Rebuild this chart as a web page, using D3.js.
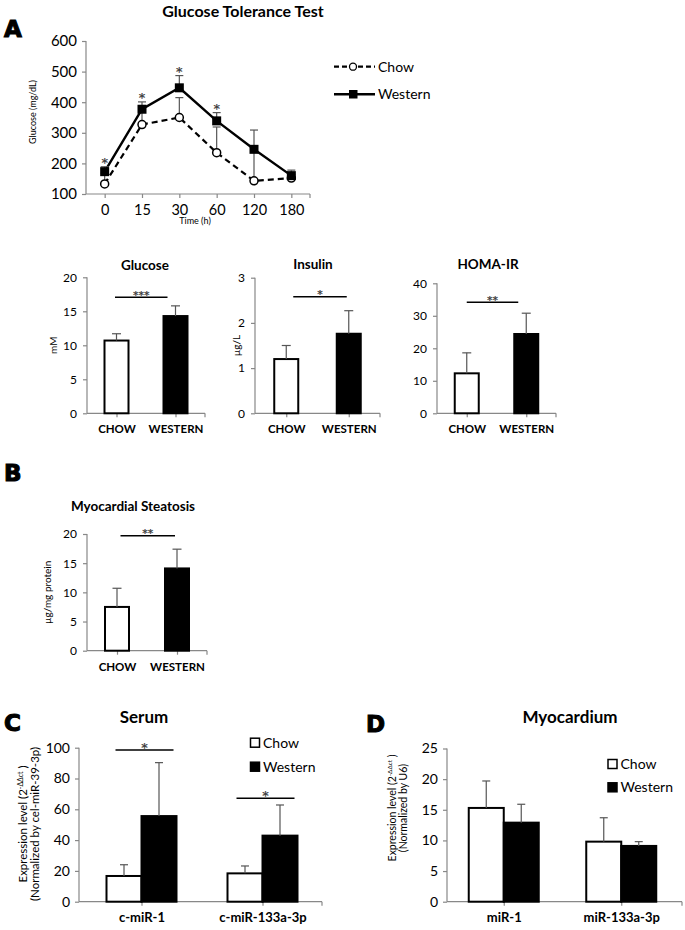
<!DOCTYPE html>
<html><head><meta charset="utf-8">
<script src="https://cdn.jsdelivr.net/npm/d3@7"></script>
<style>body{margin:0;background:#fff} svg{display:block} text{font-family:Lato,'Open Sans',sans-serif;fill:#000}</style>
</head><body><svg id="c" width="685" height="930"></svg>
<script>
// ---------- DATA ----------
const gttTimes = ["0","15","30","60","120","180"];
const gttChow = [133,327,350,235,143,152];
const gttChowErr = [35,45,65,84,95,12];
const gttWestern = [173,377,447,339,246,160];
const gttWesternErr = [16,24,40,27,63,18];
const gttSig = ["*","*","*","*","",""];
const gttTicks = [100,200,300,400,500,600];

const groups2 = ["CHOW","WESTERN"];
const glucoseVals = [10.7,14.3], glucoseErr = [1.0,1.5], glucoseTicks = [0,5,10,15,20];
const insulinVals = [1.2,1.76], insulinErr = [0.3,0.51], insulinTicks = [0,1,2,3];
const homaVals = [12.3,24.4], homaErr = [6.3,6.4], homaTicks = [0,10,20,30,40];
const steatVals = [7.5,14.1], steatErr = [3.2,3.3], steatTicks = [0,5,10,15,20];

const seriesNames = ["Chow","Western"];
const serumCats = ["c-miR-1","c-miR-133a-3p"];
const serumChow = [16.7,18.4], serumChowErr = [7.3,4.8];
const serumWestern = [55.6,42.9], serumWesternErr = [34.7,19.9];
const serumTicks = [0,20,40,60,80,100];
const serumSig = ["*","*"], serumSigLevel = [98.5,67.1];
const myoCats = ["miR-1","miR-133a-3p"];
const myoChow = [15.3,9.8], myoChowErr = [4.4,3.9];
const myoWestern = [12.9,9.1], myoWesternErr = [3.0,0.7];
const myoTicks = [0,5,10,15,20,25];

// ---------- HELPERS ----------
const svg = d3.select("#c");
const AX = "#888", ERR = "#555";
const fmt = d3.format("d");
const STAR = "'DejaVu Sans',sans-serif";

function styleAxis(g, fs, bold){
  g.selectAll(".domain").remove();
  g.selectAll(".tick line").attr("stroke", AX).attr("stroke-width",1.2);
  g.selectAll(".tick text").attr("fill","#000").style("font-size",fs+"px")
   .style("font-family","Lato,'Open Sans',sans-serif").style("font-weight",bold?"bold":"normal");
}
function hline(x0,x1,y,col,w){ return svg.append("line").attr("x1",x0).attr("x2",x1).attr("y1",y).attr("y2",y).attr("stroke",col).attr("stroke-width",w); }
function vline(x,y0,y1,col,w){ return svg.append("line").attr("x1",x).attr("x2",x).attr("y1",y0).attr("y2",y1).attr("stroke",col).attr("stroke-width",w); }
function errBar(x,yv,ye,cap){ vline(x,yv,ye,ERR,1.2); hline(x-cap/2,x+cap/2,ye,ERR,1.2); }
function panelLetter(t,x,y){ svg.append("text").attr("x",x).attr("y",y).text(t)
  .style("font-family","'DejaVu Sans',sans-serif").style("font-weight","bold").style("font-size","23px")
  .attr("stroke","#000").attr("stroke-width",1.1); }
function title(t,x,y,fs){ svg.append("text").attr("x",x).attr("y",y).attr("text-anchor","middle").text(t)
  .style("font-weight","bold").style("font-size",fs+"px"); }
function rotLabel(t,x,y,fs){ return svg.append("text").attr("transform",`translate(${x},${y}) rotate(-90)`)
  .attr("text-anchor","middle").style("font-size",fs+"px").text(t); }
function star(t,x,y,fs){
  svg.append("text").attr("x",x).attr("y",y).attr("text-anchor","middle")
    .style("font-family",STAR).style("font-size",fs+"px").style("fill","#3a3a3a")
    .attr("stroke","#3a3a3a").attr("stroke-width",0.25).text(t); }

// ---------- PANEL A : line chart ----------
panelLetter("A",4,37);
title("Glucose Tolerance Test",243,17,16);
{
  const x = d3.scalePoint().domain(gttTimes).range([86,310]).padding(0.5);
  const y = d3.scaleLinear().domain([100,600]).range([194,41]);
  const gy = svg.append("g").attr("transform","translate(86,0)")
    .call(d3.axisLeft(y).tickValues(gttTicks).tickFormat(fmt).tickSize(4).tickPadding(5).tickSizeOuter(0));
  styleAxis(gy,15,false);
  const gx = svg.append("g").attr("transform","translate(0,194)")
    .call(d3.axisBottom(x).tickSize(4).tickPadding(6.5).tickSizeOuter(0));
  styleAxis(gx,14.5,false);
  vline(86,41,194,AX,1.2); hline(86,310,194,AX,1.2); vline(310,194,198,AX,1.2);
  rotLabel("Glucose (mg/dL)",36,112,9);
  svg.append("text").attr("x",195).attr("y",224).attr("text-anchor","middle").style("font-size","9px").text("Time (h)");

  const ln = d3.line().x((d,i)=>x(gttTimes[i])).y(d=>y(d));
  svg.append("path").datum(gttChow).attr("d",ln).attr("fill","none").attr("stroke","#000").attr("stroke-width",2.2).attr("stroke-dasharray","6,4");
  svg.append("path").datum(gttWestern).attr("d",ln).attr("fill","none").attr("stroke","#000").attr("stroke-width",2.4);
  gttTimes.forEach((t,i)=>{
    errBar(x(t),y(gttChow[i]),y(gttChow[i]+gttChowErr[i]),8);
    errBar(x(t),y(gttWestern[i]),y(gttWestern[i]+gttWesternErr[i]),8);
  });
  gttTimes.forEach((t,i)=>{
    svg.append("circle").attr("cx",x(t)).attr("cy",y(gttChow[i])).attr("r",4).attr("fill","#fff").attr("stroke","#000").attr("stroke-width",1.5);
  });
  gttTimes.forEach((t,i)=>{
    svg.append("rect").attr("x",x(t)-4.5).attr("y",y(gttWestern[i])-4.5).attr("width",9).attr("height",9).attr("fill","#000");
    if(gttSig[i]) star(gttSig[i],x(t),y(gttWestern[i]+gttWesternErr[i])+0.5,13);
  });
  // legend
  hline(334,375,66.7,"#000",2.2).attr("stroke-dasharray","5,3");
  svg.append("circle").attr("cx",353).attr("cy",66.7).attr("r",3.5).attr("fill","#fff").attr("stroke","#000").attr("stroke-width",1.3);
  svg.append("text").attr("x",378).attr("y",71.5).style("font-size","14px").text(seriesNames[0]);
  hline(334,375,94.3,"#000",2.4);
  svg.append("rect").attr("x",349).attr("y",90).attr("width",8.5).attr("height",8.5).attr("fill","#000");
  svg.append("text").attr("x",378).attr("y",99).style("font-size","14px").text(seriesNames[1]);
}

// ---------- simple two-bar charts ----------
function simpleBar(c){
  const x = d3.scalePoint().domain(groups2).range([c.x0,c.x1]).padding(0.5);
  const y = d3.scaleLinear().domain([0,c.max]).range([c.yb,c.yt]);
  const gy = svg.append("g").attr("transform",`translate(${c.x0},0)`)
    .call(d3.axisLeft(y).tickValues(c.ticks).tickFormat(fmt).tickSize(4).tickPadding(6).tickSizeOuter(0));
  styleAxis(gy,12,false);
  const gx = svg.append("g").attr("transform",`translate(0,${c.yb})`)
    .call(d3.axisBottom(x).tickSize(4).tickPadding(8).tickSizeOuter(0));
  styleAxis(gx,11.5,true);
  vline(c.x0,c.yt,c.yb,AX,1.2); hline(c.x0,c.x1,c.yb,AX,1.2); vline(c.x1,c.yb,c.yb+4,AX,1.2);
  const bw = 24;
  groups2.forEach((g,i)=>{
    svg.append("rect").attr("x",x(g)-bw/2).attr("y",y(c.vals[i])).attr("width",bw).attr("height",c.yb-y(c.vals[i]))
      .attr("fill",i?"#000":"#fff").attr("stroke","#000").attr("stroke-width",2);
    errBar(x(g),y(c.vals[i]),y(c.vals[i]+c.errs[i]),9);
  });
  title(c.title,c.tx,c.ty,13.5);
  if(c.ylabel) rotLabel(c.ylabel,c.ylx,(c.yt+c.yb)/2,10);
  const sy = y(c.sigLevel);
  const sx0 = x(groups2[0])+c.sigOff[0], sx1 = x(groups2[1])+c.sigOff[1];
  hline(sx0,sx1,sy,"#000",1.5);
  star(c.sig,(sx0+sx1)/2,sy+1.5,11);
}
simpleBar({vals:glucoseVals,errs:glucoseErr,ticks:glucoseTicks,max:20,x0:87,x1:205,yb:413.3,yt:277.3,
  title:"Glucose",tx:145,ty:270,ylabel:"mM",ylx:57,sig:"***",sigLevel:17.06,sigOff:[-1.5,-8]});
simpleBar({vals:insulinVals,errs:insulinErr,ticks:insulinTicks,max:3,x0:255,x1:380,yb:413.3,yt:277.7,
  title:"Insulin",tx:313,ty:268.5,ylabel:"µg/L",ylx:240,sig:"*",sigLevel:2.58,sigOff:[7,-2]});
simpleBar({vals:homaVals,errs:homaErr,ticks:homaTicks,max:40,x0:437,x1:556,yb:413.3,yt:283.3,
  title:"HOMA-IR",tx:488,ty:269,ylabel:null,sig:"**",sigLevel:34.2,sigOff:[0,-8]});

panelLetter("B",4,481);
simpleBar({vals:steatVals,errs:steatErr,ticks:steatTicks,max:20,x0:87,x1:207,yb:650.7,yt:534,
  title:"Myocardial Steatosis",tx:133,ty:511,ylabel:"µg/mg protein",ylx:51,sig:"**",sigLevel:19.7,sigOff:[3.5,-2]});

// ---------- grouped bar charts ----------
function groupBar(c){
  const x = d3.scalePoint().domain(c.cats).range([c.sx0,c.sx1]).padding(0.5);
  const y = d3.scaleLinear().domain([0,c.max]).range([c.yb,c.yt]);
  const gy = svg.append("g").attr("transform",`translate(${c.ax0},0)`)
    .call(d3.axisLeft(y).tickValues(c.ticks).tickFormat(fmt).tickSize(4).tickPadding(5).tickSizeOuter(0));
  styleAxis(gy,14,false);
  const gx = svg.append("g").attr("transform",`translate(0,${c.yb})`)
    .call(d3.axisBottom(x).tickSize(4).tickPadding(7).tickSizeOuter(0));
  styleAxis(gx,13,true);
  vline(c.ax0,c.yt,c.yb,AX,1.2); hline(c.ax0,c.ax1,c.yb,AX,1.2); vline(c.ax1,c.yb,c.yb+4,AX,1.2);
  const bw = 35;
  c.cats.forEach((g,i)=>{
    svg.append("rect").attr("x",x(g)-bw).attr("y",y(c.chow[i])).attr("width",bw).attr("height",c.yb-y(c.chow[i]))
      .attr("fill","#fff").attr("stroke","#000").attr("stroke-width",2);
    svg.append("rect").attr("x",x(g)).attr("y",y(c.west[i])).attr("width",bw).attr("height",c.yb-y(c.west[i]))
      .attr("fill","#000").attr("stroke","#000").attr("stroke-width",2);
    errBar(x(g)-bw/2,y(c.chow[i]),y(c.chow[i]+c.chowErr[i]),8);
    errBar(x(g)+bw/2,y(c.west[i]),y(c.west[i]+c.westErr[i]),8);
    if(c.sig){
      const sy = y(c.sigLevel[i]);
      hline(x(g)-bw+9,x(g)+bw-3,sy,"#000",1.5);
      star(c.sig[i],x(g)+3,sy+1.5,13);
    }
  });
  title(c.title,c.tx,c.ty,17);
  const yl = svg.append("text").attr("transform",`translate(${c.ylx[0]},${c.yly}) rotate(-90)`).attr("text-anchor","middle").style("font-size",c.ylfs+"px");
  yl.append("tspan").text("Expression level (2");
  yl.append("tspan").attr("dy",-c.ylfs*0.35).style("font-size",(c.ylfs*0.6)+"px").text("-ΔΔct");
  yl.append("tspan").attr("dy",c.ylfs*0.35).text(" )");
  rotLabel(c.yl2,c.ylx[1],c.yly,c.ylfs);
  // legend
  c.leg.forEach((ly,i)=>{
    svg.append("rect").attr("x",c.legx).attr("y",ly-4.5).attr("width",9).attr("height",9)
      .attr("fill",i?"#000":"#fff").attr("stroke","#000").attr("stroke-width",1.5);
    svg.append("text").attr("x",c.legx+12.5).attr("y",ly+5).style("font-size","14px").text(seriesNames[i]);
  });
}
panelLetter("C",4,731);
groupBar({cats:serumCats,chow:serumChow,chowErr:serumChowErr,west:serumWestern,westErr:serumWesternErr,
  ticks:serumTicks,max:100,sx0:81,sx1:323,ax0:79,ax1:322,yb:901.7,yt:747.7,title:"Serum",tx:144,ty:723,
  ylx:[27,39],yly:824,ylfs:11.5,yl2:"(Normalized by cel-miR-39-3p)",leg:[742.7,766.7],legx:250.5,
  sig:serumSig,sigLevel:serumSigLevel});
panelLetter("D",366,732);
groupBar({cats:myoCats,chow:myoChow,chowErr:myoChowErr,west:myoWestern,westErr:myoWesternErr,
  ticks:myoTicks,max:25,sx0:445,sx1:680,ax0:447,ax1:682,yb:901.7,yt:748.5,title:"Myocardium",tx:570,ty:723,
  ylx:[396,407],yly:808,ylfs:10.5,yl2:"(Normalized by U6)",leg:[764,787.3],legx:608,sig:null});
</script></body></html>
